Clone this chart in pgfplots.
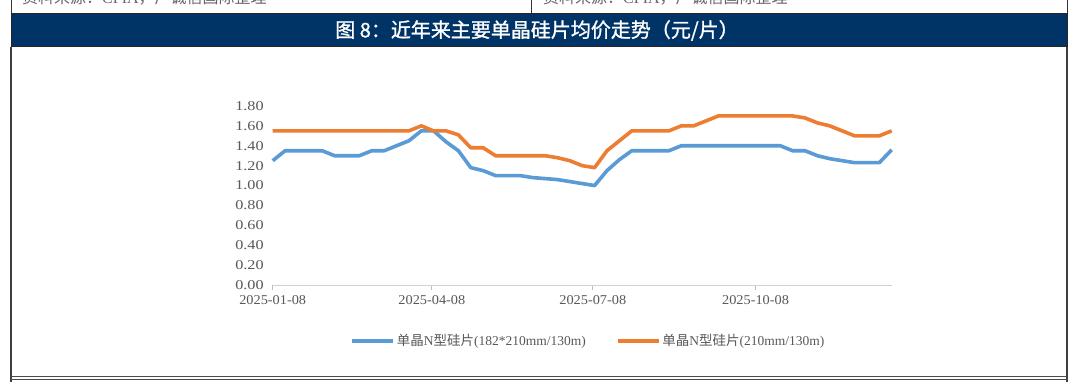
\documentclass[border=0pt]{standalone}
\usepackage{pgfplots}
\pgfplotsset{compat=1.18}
\usepackage{fontspec}
\setmainfont{Liberation Serif}
\newfontfamily\cjk{Noto Sans CJK SC}
\newfontfamily\cjkbold[FakeBold=1.2]{Noto Sans CJK SC}
\newfontfamily\ylabfont[FakeStretch=1.2]{Liberation Serif}
\newfontfamily\xlabfont[FakeStretch=1.06]{Liberation Serif}
\definecolor{sblue}{HTML}{5B9BD5}
\definecolor{sorange}{HTML}{ED7D31}
\definecolor{navy}{HTML}{003366}
\definecolor{txtgray}{HTML}{595959}
\begin{document}
\begin{tikzpicture}[x=1bp,y=1bp]
\useasboundingbox (0,0) rectangle (1080,382);
\fill[white] (0,0) rectangle (1080,382);
% top strip (cut)
\begin{scope}
\clip (0,368) rectangle (1080,382);
\node[anchor=south west,inner sep=0,text=gray!80!black,font=\fontsize{16bp}{18bp}\selectfont] at (22,377) {{\cjk 资料来源：}CPIA{\cjk ，广诚信国际整理}};
\node[anchor=south west,inner sep=0,text=gray!80!black,font=\fontsize{16bp}{18bp}\selectfont] at (543,377) {{\cjk 资料来源：}CPIA{\cjk ，广诚信国际整理}};
\end{scope}
\draw[line width=1bp,black!80] (11,382) -- (11,368);
\draw[line width=1bp,black!80] (531,382) -- (531,368);
\draw[line width=1bp,black!80] (1067,382) -- (1067,368);
% title bar
\fill[navy] (11,335) rectangle (1067,368);
\draw[line width=1bp,black!85] (11,335) rectangle (1067,368);
\node[text=white,font=\fontsize{20bp}{22bp}\selectfont\cjkbold] at (537,351.5) {图 8：近年来主要单晶硅片均价走势（元/片）};
% chart frame
\draw[line width=1.6bp,black!75] (11,335) -- (11,0);
\draw[line width=1.6bp,black!75] (1067,335) -- (1067,0);
\draw[line width=1bp,black!70] (11,5.5) -- (1067,5.5);
\draw[line width=1bp,black!70] (11,3) -- (1067,3);
\begin{axis}[
  at={(272.7bp,97bp)}, anchor=south west,
  scale only axis, width=619bp, height=179bp,
  xmin=0, xmax=350, ymin=0, ymax=1.8,
  axis x line=bottom, axis y line=left,
  x axis line style={-, draw=black!18, line width=0.8bp},
  y axis line style={draw=none},
  xtick={0,90,181,273},
  xticklabels={2025-01-08,2025-04-08,2025-07-08,2025-10-08},
  ytick={0,0.2,0.4,0.6,0.8,1.0,1.2,1.4,1.6,1.8},
  yticklabel style={/pgf/number format/fixed, /pgf/number format/fixed zerofill, /pgf/number format/precision=2,
    text=txtgray, font=\fontsize{13.5bp}{16bp}\ylabfont, xshift=-0.5bp},
  /pgf/number format/assume math mode=true,
  tick align=outside,
  major tick length=5bp,
  xtick style={draw=black!25, line width=0.8bp},
  ytick style={draw=none},
  xticklabel style={text=txtgray, font=\fontsize{13.5bp}{16bp}\xlabfont, yshift=-2bp},
  legend style={at={(0.51,-0.313)}, anchor=center, draw=none, fill=none,
    legend columns=2, text=txtgray, font=\fontsize{13.5bp}{16bp}\selectfont,
    /tikz/every even column/.append style={column sep=28bp}},
  legend image code/.code={\draw[#1] (0bp,0bp) -- (41bp,0bp);},
  every axis plot/.append style={line width=3.6bp, line join=round},
  clip=false,
]
\addplot[color=sblue, mark=none] coordinates {
(0,1.25)(7,1.35)(14,1.35)(21,1.35)(28,1.35)(35,1.30)(42,1.30)(49,1.30)(56,1.35)(63,1.35)
(70,1.40)(77,1.45)(84,1.55)(91,1.55)(98,1.44)(105,1.35)(112,1.18)(119,1.15)(126,1.10)(133,1.10)
(140,1.10)(147,1.08)(154,1.07)(161,1.06)(168,1.04)(175,1.02)(182,1.00)(189,1.15)(196,1.26)(203,1.35)
(210,1.35)(217,1.35)(224,1.35)(231,1.40)(238,1.40)(245,1.40)(252,1.40)(259,1.40)(266,1.40)(273,1.40)
(280,1.40)(287,1.40)(294,1.35)(301,1.35)(308,1.30)(315,1.27)(322,1.25)(329,1.23)(336,1.23)(343,1.23)
(350,1.36)};
\addlegendentry{{\cjk 单晶}N{\cjk 型硅片}(182*210mm/130m)}
\addplot[color=sorange, mark=none] coordinates {
(0,1.55)(7,1.55)(14,1.55)(21,1.55)(28,1.55)(35,1.55)(42,1.55)(49,1.55)(56,1.55)(63,1.55)
(70,1.55)(77,1.55)(84,1.60)(91,1.55)(98,1.55)(105,1.51)(112,1.38)(119,1.38)(126,1.30)(133,1.30)
(140,1.30)(147,1.30)(154,1.30)(161,1.28)(168,1.25)(175,1.20)(182,1.18)(189,1.35)(196,1.45)(203,1.55)
(210,1.55)(217,1.55)(224,1.55)(231,1.60)(238,1.60)(245,1.65)(252,1.70)(259,1.70)(266,1.70)(273,1.70)
(280,1.70)(287,1.70)(294,1.70)(301,1.68)(308,1.63)(315,1.60)(322,1.55)(329,1.50)(336,1.50)(343,1.50)
(350,1.55)};
\addlegendentry{{\cjk 单晶}N{\cjk 型硅片}(210mm/130m)}
\end{axis}
\end{tikzpicture}
\end{document}
